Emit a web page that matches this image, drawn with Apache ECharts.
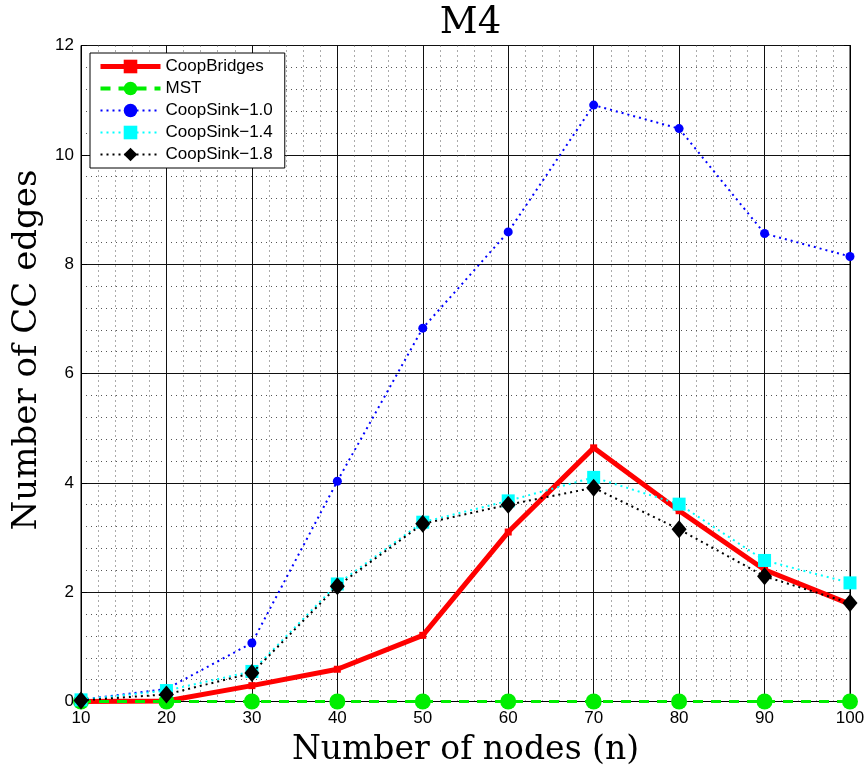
<!DOCTYPE html>
<html><head><meta charset="utf-8">
<script src="https://cdn.jsdelivr.net/npm/echarts@6/dist/echarts.min.js"></script>
<style>html,body{margin:0;padding:0;background:#fff}#c{width:866px;height:771px}</style>
</head><body><div id="c"></div>
<script>
const nodes = [10,20,30,40,50,60,70,80,90,100];
const coopBridges = [0,0.01,0.29,0.59,1.21,3.10,4.64,3.49,2.41,1.78];
const mst = [0,0,0,0,0,0,0,0,0,0];
const coopSink10 = [0.03,0.23,1.07,4.03,6.83,8.59,10.91,10.48,8.56,8.14];
const coopSink14 = [0.03,0.20,0.55,2.15,3.28,3.67,4.10,3.61,2.58,2.17];
const coopSink18 = [0.02,0.13,0.52,2.11,3.25,3.60,3.91,3.15,2.29,1.80];
const xTicks = [10,20,30,40,50,60,70,80,90,100];
const yTicks = [0,2,4,6,8,10,12];
const yTitle = 'Number of CC edges';

const pair = arr => nodes.map((n,i)=>[n,arr[i]]);
const chart = echarts.init(document.getElementById('c'));
const tickFont = {fontFamily:'Liberation Sans', fontSize:17, color:'#000'};
const serif = 'DejaVu Serif';
chart.setOption({
  animation:false,
  backgroundColor:'#fff',
  title:{text:'M4', left:465.5, top:0, textAlign:'center',
    textStyle:{fontFamily:serif, fontSize:37, fontWeight:'normal', color:'#000'}},
  graphic:[{
    type:'text', x:27, y:350, rotation:Math.PI/2,
    style:{text:yTitle, fontFamily:serif, fontSize:34, fill:'#000', align:'center', verticalAlign:'middle'}
  }],
  grid:{left:81, right:16, top:45.5, bottom:69.5, show:true, borderColor:'#000', borderWidth:1,
    outerBoundsMode:'none', containLabel:false},
  legend:{
    left:90, top:53, orient:'vertical', backgroundColor:'#fff', borderColor:'#000', borderWidth:1,
    padding:[5,12,5,8], itemGap:5, itemWidth:60, itemHeight:17,
    textStyle:{fontFamily:'Liberation Sans', fontSize:17, color:'#000'},
    data:[
      {name:'CoopBridges', lineStyle:{width:5}},
      {name:'MST', lineStyle:{width:4}},
      {name:'CoopSink\u22121.0', lineStyle:{width:2}},
      {name:'CoopSink\u22121.4', lineStyle:{width:2}},
      {name:'CoopSink\u22121.8', lineStyle:{width:2}}
    ]
  },
  xAxis:[{
    type:'value', min:xTicks[0], max:xTicks[xTicks.length-1], interval:10,
    name:'Number of nodes (n)', nameLocation:'middle', nameGap:32,
    nameTextStyle:{fontFamily:serif, fontSize:33, color:'#000'},
    axisLine:{lineStyle:{color:'#000'}}, axisTick:{inside:true, length:6, lineStyle:{color:'#000'}},
    axisLabel:Object.assign({margin:8}, tickFont),
    splitLine:{show:true, lineStyle:{color:'#111', width:1}},
    minorTick:{show:false, splitNumber:5},
    minorSplitLine:{show:true, lineStyle:{color:'#555', width:1, type:[1,4]}}
  },{
    type:'value', position:'top', min:10, max:100, interval:10,
    axisLine:{lineStyle:{color:'#000'}}, axisTick:{inside:true, length:6, lineStyle:{color:'#000'}},
    axisLabel:{show:false}, splitLine:{show:false}
  }],
  yAxis:[{
    type:'value', min:yTicks[0], max:yTicks[yTicks.length-1], interval:2,
    axisLine:{show:true, lineStyle:{color:'#000'}}, axisTick:{show:true, inside:true, length:6, lineStyle:{color:'#000'}},
    axisLabel:Object.assign({margin:7}, tickFont),
    splitLine:{show:true, lineStyle:{color:'#111', width:1}},
    minorTick:{show:false, splitNumber:5},
    minorSplitLine:{show:true, lineStyle:{color:'#555', width:1, type:[1,4]}}
  },{
    type:'value', position:'right', min:0, max:12, interval:2,
    axisLine:{show:true, lineStyle:{color:'#000'}}, axisTick:{show:true, inside:true, length:6, lineStyle:{color:'#000'}},
    axisLabel:{show:false}, splitLine:{show:false}
  }],
  series:[
    {name:'CoopBridges', type:'line', data:pair(coopBridges), symbol:'rect', symbolSize:7,
      itemStyle:{color:'#ff0000'}, lineStyle:{color:'#ff0000', width:5}, z:2},
    {name:'MST', type:'line', data:pair(mst), symbol:'circle', symbolSize:16,
      itemStyle:{color:'#00ee00'}, lineStyle:{color:'#00ee00', width:3, type:[10,8]}, z:3},
    {name:'CoopSink\u22121.0', type:'line', data:pair(coopSink10), symbol:'circle', symbolSize:9,
      itemStyle:{color:'#0000ff'}, lineStyle:{color:'#0000ff', width:2, type:[2,4]}, z:4},
    {name:'CoopSink\u22121.4', type:'line', data:pair(coopSink14), symbol:'rect', symbolSize:13,
      itemStyle:{color:'#00ffff'}, lineStyle:{color:'#00ffff', width:2, type:[2,4]}, z:5},
    {name:'CoopSink\u22121.8', type:'line', data:pair(coopSink18), symbol:'diamond', symbolSize:[15,18],
      itemStyle:{color:'#000'}, lineStyle:{color:'#000', width:2, type:[2,4]}, z:6}
  ]
});
</script></body></html>
